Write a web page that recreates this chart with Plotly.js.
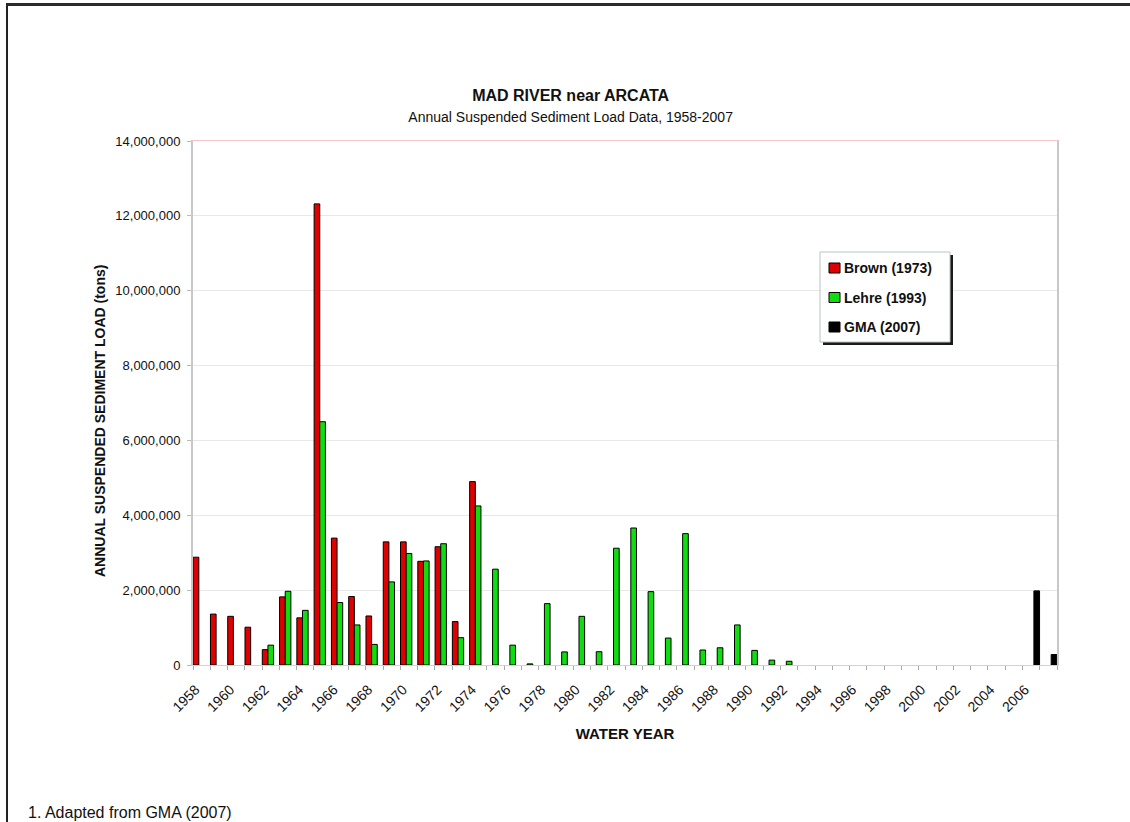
<!DOCTYPE html>
<html>
<head>
<meta charset="utf-8">
<script src="https://cdn.plot.ly/plotly-3.0.1.min.js"></script>
<style>
  html, body { margin: 0; padding: 0; background: #fff; }
  #wrap { position: relative; width: 1130px; height: 822px; overflow: hidden; }
  #chart { position: absolute; left: 0; top: 0; width: 1130px; height: 822px; }
  #frame { position: absolute; left: 6px; top: 3px; width: 1140px; height: 840px;
           border-left: 2px solid #222; border-top: 3px solid #2a2a2a;
           pointer-events: none; }
</style>
</head>
<body>
<div id="wrap">
  <div id="chart"></div>
  <div id="frame"></div>
</div>
<script>
// ---- data (tons) ----
const brownYears = [1958, 1959, 1960, 1961, 1962, 1963, 1964, 1965, 1966, 1967, 1968, 1969, 1970, 1971, 1972, 1973, 1974];
const brownLoad  = [2880000, 1360000, 1300000, 1010000, 410000, 1820000, 1260000, 12320000, 3390000, 1830000, 1310000, 3290000, 3290000, 2770000, 3160000, 1160000, 4900000];

const lehreYears = [1962, 1963, 1964, 1965, 1966, 1967, 1968, 1969, 1970, 1971, 1972, 1973, 1974, 1975, 1976, 1977,
                    1978, 1979, 1980, 1981, 1982, 1983, 1984, 1985, 1986, 1987, 1988, 1989, 1990, 1991, 1992];
const lehreLoad  = [530000, 1970000, 1460000, 6500000, 1670000, 1070000, 550000, 2220000, 2980000, 2780000, 3240000, 730000, 4250000, 2560000, 530000, 30000,
                    1640000, 350000, 1300000, 355000, 3120000, 3660000, 1960000, 720000, 3510000, 400000, 460000, 1070000, 390000, 130000, 100000];

const gmaYears = [2006, 2007];
const gmaLoad  = [1980000, 280000];

const tickYears = [1958, 1960, 1962, 1964, 1966, 1968, 1970, 1972, 1974, 1976, 1978, 1980, 1982,
                   1984, 1986, 1988, 1990, 1992, 1994, 1996, 1998, 2000, 2002, 2004, 2006];
const tickLabels = ["1958", "1960", "1962", "1964", "1966", "1968", "1970", "1972", "1974", "1976", "1978", "1980", "1982",
                    "1984", "1986", "1988", "1990", "1992", "1994", "1996", "1998", "2000", "2002", "2004", "2006"];

const seriesNames = ["Brown (1973)", "Lehre (1993)", "GMA (2007)"];
const seriesColors = ["#e00000", "#10dd10", "#000000"];

const FONT = "Liberation Sans, Arial, sans-serif";

const seriesX = [brownYears, lehreYears, gmaYears];
const seriesY = [brownLoad, lehreLoad, gmaLoad];

const traces = seriesNames.map((nm, i) => ({
  type: "bar", x: seriesX[i], y: seriesY[i], name: nm, showlegend: false,
  marker: { color: seriesColors[i], line: { color: "#000", width: 1 } }
}));

// plot-area geometry helpers (pixel -> paper) for decorative placement
const PL = 193, PW = 864, PT = 141, PH = 524;
const px = v => (v - PL) / PW;
const py = v => (PT + PH - v) / PH;

// custom legend (box with drop shadow) built from series names/colours
const shapes = [
  { type: "rect", xref: "paper", yref: "paper", layer: "above",
    x0: px(823), x1: px(953), y0: py(345), y1: py(255), fillcolor: "#1a1a1a", line: { width: 0 } },
  { type: "rect", xref: "paper", yref: "paper", layer: "above",
    x0: px(820), x1: px(950), y0: py(342), y1: py(252), fillcolor: "#fff", line: { color: "#b8c4c4", width: 1 } }
];
const annotations = [];
const rowY = [268, 297.5, 327];
seriesNames.forEach((nm, i) => {
  shapes.push({ type: "rect", xref: "paper", yref: "paper", layer: "above",
    x0: px(829), x1: px(840), y0: py(rowY[i] + 5), y1: py(rowY[i] - 5),
    fillcolor: seriesColors[i], line: { color: "#000", width: 1 } });
  annotations.push({ text: "<b>" + nm + "</b>", xref: "paper", yref: "paper", x: px(842), y: py(rowY[i]),
    xanchor: "left", yanchor: "middle", showarrow: false,
    font: { family: FONT, size: 14, color: "#111" } });
});
annotations.push({ text: "1. Adapted from GMA (2007)", xref: "paper", yref: "paper", x: px(26), y: py(812),
  xanchor: "left", yanchor: "middle", showarrow: false, font: { family: FONT, size: 16, color: "#111" } });
annotations.push({ text: "<b>ANNUAL SUSPENDED SEDIMENT LOAD (tons)</b>", xref: "paper", yref: "paper",
  x: px(100), y: py(421), xanchor: "center", yanchor: "middle", textangle: -90, showarrow: false,
  font: { family: FONT, size: 14, color: "#111" } });

const layout = {
  width: 1130, height: 822,
  margin: { l: 193, r: 73, t: 141, b: 157 },
  paper_bgcolor: "#fff", plot_bgcolor: "#fff",
  font: { family: FONT, color: "#111" },
  barmode: "group", bargap: 0.02, bargroupgap: 0,
  showlegend: false,
  title: {
    text: "<b>MAD RIVER near ARCATA</b><br><span style='font-size:14px'>Annual Suspended Sediment Load Data, 1958-2007</span>",
    font: { family: FONT, size: 16, color: "#111" },
    x: 0.505, xanchor: "center", y: 0.877, yanchor: "top"
  },
  xaxis: {
    type: "linear", range: [1957.5, 2007.5], fixedrange: true,
    tickmode: "array", tickvals: tickYears, ticktext: tickLabels, tickangle: -45,
    tickfont: { family: FONT, size: 14, color: "#111" },
    ticks: "", ticklabelstandoff: 10, ticklabelshift: -6,
    showgrid: false, zeroline: false,
    showline: true, linecolor: "#efc4cc", linewidth: 1, mirror: true,
    minor: { ticks: "outside", ticklen: 4, tickcolor: "#aaa", tick0: 1957.5, dtick: 1, showgrid: false },
    title: { text: "<b>WATER YEAR</b>", font: { family: FONT, size: 15, color: "#111" }, standoff: 14 }
  },
  yaxis: {
    range: [0, 14000000], dtick: 2000000, tick0: 0, fixedrange: true,
    tickformat: ",d", tickfont: { family: FONT, size: 13, color: "#111" },
    ticks: "outside", ticklen: 4, tickcolor: "#bbb", ticklabelstandoff: 4,
    showgrid: true, gridcolor: "#e8e8e8", gridwidth: 1, zeroline: false,
    showline: true, linecolor: "#c8c8c8", linewidth: 2, mirror: true
  },
  shapes: shapes,
  annotations: annotations
};

Plotly.newPlot("chart", traces, layout, { displayModeBar: false, staticPlot: true });
</script>
</body>
</html>
